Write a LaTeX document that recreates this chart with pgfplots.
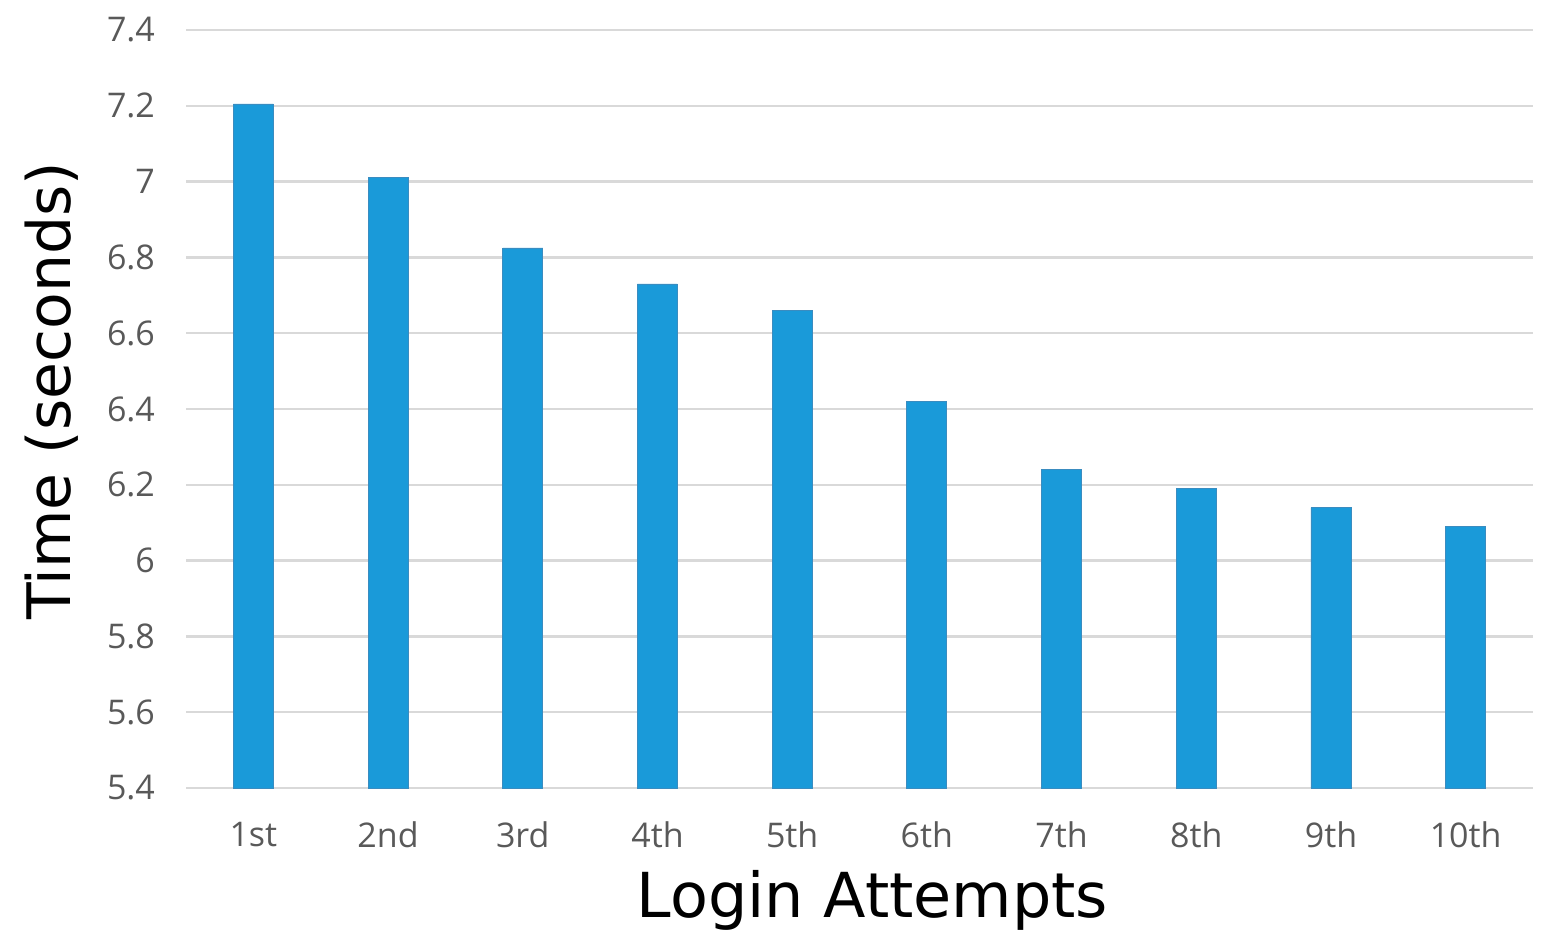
\documentclass[border=0pt]{standalone}
\usepackage{fontspec}
\setmainfont{Open Sans}
\newfontfamily\labelfont{DejaVu Sans}
\usepackage{pgfplots}
\pgfplotsset{compat=1.18}
\definecolor{barblue}{HTML}{1A9AD9}
\definecolor{baredge}{HTML}{3A8CC0}
\definecolor{gridgray}{HTML}{D9D9D9}
\definecolor{ticktext}{HTML}{595959}
\begin{document}
\begin{tikzpicture}
\path[use as bounding box] (-93pt,-78pt) rectangle (682pt,394pt);
\begin{axis}[
  scale only axis,
  width=673.5pt, height=379pt,
  at={(0,0)}, anchor=south west,
  xmin=0.5, xmax=10.5,
  ymin=5.4, ymax=7.4,
  ytick={5.4,5.6,...,7.41},
  xtick={1,...,10},
  xticklabels={1st,2nd,3rd,4th,5th,6th,7th,8th,9th,10th},
  axis x line*=bottom,
  axis y line*=left,
  y axis line style={draw=none},
  x axis line style={draw=gridgray, line width=1.2pt},
  ymajorgrids,
  grid style={draw=gridgray, line width=1.2pt},
  major tick length=0pt,
  tick style={draw=none},
  /pgf/number format/assume math mode=true,
  /pgf/number format/fixed,
  /pgf/number format/precision=1,
  ticklabel style={font=\fontsize{17}{20}\selectfont, text=ticktext},
  yticklabel style={xshift=-12pt},
  xticklabel style={yshift=-13.5pt},
  xlabel={Login Attempts},
  ylabel={Time (seconds)},
  every axis x label/.style={at={(axis description cs:0.5,0)}, anchor=center, yshift=-56pt, xshift=6.5pt, font=\labelfont\fontsize{31}{36}\selectfont},
  every axis y label/.style={at={(axis description cs:0,0.5)}, xshift=-67pt, yshift=9pt, rotate=90, anchor=center, font=\labelfont\fontsize{30}{36}\selectfont},
  clip=false,
]
\addplot[ybar, bar width=20pt, fill=barblue, draw=baredge, line width=0.4pt] coordinates {
(1,7.205) (2,7.01) (3,6.825) (4,6.73) (5,6.66) (6,6.42) (7,6.24) (8,6.19) (9,6.14) (10,6.09)
};
\end{axis}
\end{tikzpicture}
\end{document}
